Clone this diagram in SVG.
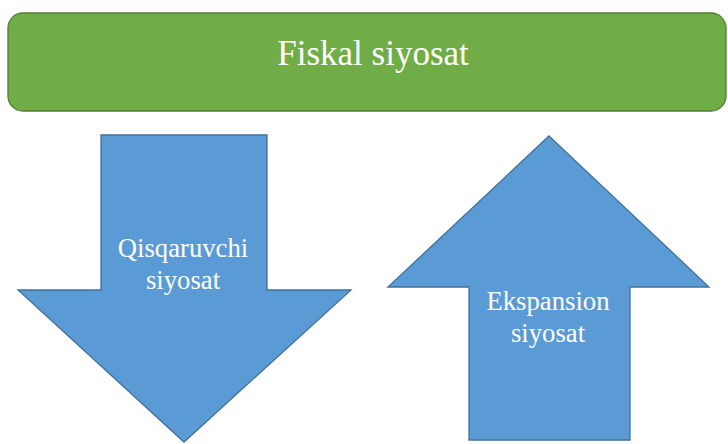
<svg xmlns="http://www.w3.org/2000/svg" width="728" height="444" viewBox="0 0 728 444">
<style>
.box{fill:#70AD47;stroke:#507E32;stroke-width:1.3}
.arr{fill:#5B9BD5;stroke:#41719C;stroke-width:1.3;stroke-linejoin:miter}
.t{font-family:"Liberation Serif","Times New Roman",serif;fill:#FFFFFF;text-anchor:middle}
</style>
<rect width="728" height="444" fill="#FFFFFF"/>
<g id="fiskal">
<rect class="box" x="8" y="13" width="718" height="98" rx="15" ry="15"/>
<text class="t" x="373" y="65" font-size="35">Fiskal siyosat</text>
</g>
<g id="qisqaruvchi">
<polygon class="arr" points="101,135 267,135 267,290 351,290 184,442 18,290 101,290"/>
<text class="t" x="183" y="257" font-size="26.7">Qisqaruvchi</text>
<text class="t" x="183" y="289" font-size="26.7">siyosat</text>
</g>
<g id="ekspansion">
<polygon class="arr" points="549,136 709,287 630,287 630,440 469,440 469,287 388,287"/>
<text class="t" x="548" y="310" font-size="26.7">Ekspansion</text>
<text class="t" x="548" y="342" font-size="26.7">siyosat</text>
</g>
<g id="connectors"></g>
</svg>
